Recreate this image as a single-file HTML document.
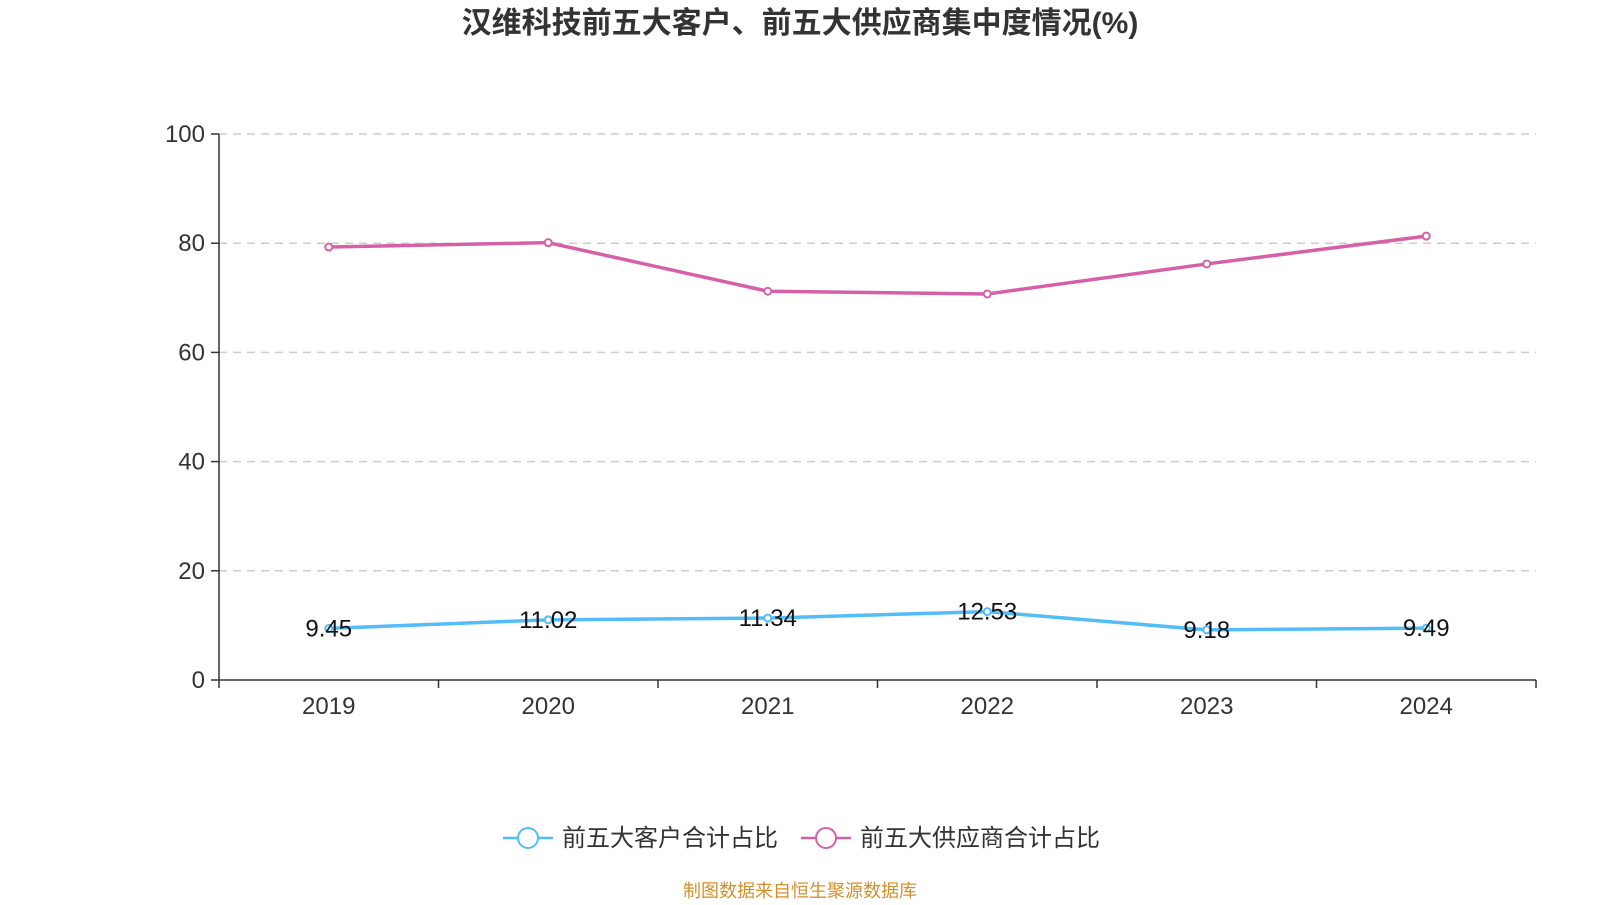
<!DOCTYPE html>
<html><head><meta charset="utf-8"><style>
body{margin:0;background:#fff;width:1600px;height:900px;overflow:hidden;font-family:"Liberation Sans","Noto Sans CJK SC",sans-serif}
</style></head><body>
<svg id="c" width="1600" height="900" xmlns="http://www.w3.org/2000/svg">
<text x="800" y="33" text-anchor="middle" font-size="30" font-weight="bold" fill="#333">汉维科技前五大客户、前五大供应商集中度情况(%)</text>
<g id="grid"></g><g id="axes"></g><g id="series"></g>
<g>
<g>
<line x1="503" y1="838" x2="553" y2="838" stroke="#52bdf7" stroke-width="2.5"/><circle cx="528" cy="838" r="10" fill="#fff" stroke="#52bdf7" stroke-width="2"/>
<text x="562" y="846" font-size="24" fill="#333">前五大客户合计占比</text></g>
<g>
<line x1="801" y1="838" x2="851" y2="838" stroke="#d660a8" stroke-width="2.5"/><circle cx="826" cy="838" r="10" fill="#fff" stroke="#d660a8" stroke-width="2"/>
<text x="860" y="846" font-size="24" fill="#333">前五大供应商合计占比</text></g>
</g>
<text x="800" y="897" text-anchor="middle" font-size="18" fill="#d4902c">制图数据来自恒生聚源数据库</text>
</svg>
<script>
const categories=["2019","2020","2021","2022","2023","2024"];
const customers=[9.45,11.02,11.34,12.53,9.18,9.49];
const suppliers=[79.3,80.1,71.2,70.7,76.2,81.3];
const yTicks=[0,20,40,60,80,100];
const NS="http://www.w3.org/2000/svg";
const L=219,R=1536,T=134,B=680;
const step=(R-L)/categories.length;
const xs=i=>L+step*(i+0.5);
const ys=v=>B-(v/100)*(B-T);
function mk(tag,attrs,parent,txt){const e=document.createElementNS(NS,tag);for(const k in attrs)e.setAttribute(k,attrs[k]);if(txt!==undefined)e.textContent=txt;document.getElementById(parent).appendChild(e);return e;}
yTicks.forEach(t=>{
 if(t>0){const g=mk('line',{x1:L,x2:R,y1:ys(t),y2:ys(t),stroke:'#ccc','stroke-width':1.5,'stroke-dasharray':'8,6'},'grid');
 
 }
 const tk=mk('line',{x1:L-8,x2:L,y1:ys(t),y2:ys(t),stroke:'#333','stroke-width':1.5},'axes');
 
 
 const lb=mk('text',{x:L-14,y:ys(t)+8,'text-anchor':'end','font-size':24,fill:'#333'},'axes',t);
 
 
});
const ya=mk('line',{x1:L,x2:L,y1:T,y2:B,stroke:'#333','stroke-width':1.5},'axes');


const xa=mk('line',{x1:L,x2:R,y1:B,y2:B,stroke:'#333','stroke-width':1.5},'axes');


for(let i=0;i<=categories.length;i++){const t=mk('line',{x1:L+step*i,x2:L+step*i,y1:B,y2:B+8,stroke:'#333','stroke-width':1.5},'axes');
 
 }
categories.forEach((c,i)=>{const t=mk('text',{x:xs(i),y:B+34,'text-anchor':'middle','font-size':24,fill:'#333'},'axes',c);
 
 });
function series(vals,color,name,labels){
 const p=mk('polyline',{points:vals.map((v,i)=>xs(i)+','+ys(v)).join(' '),fill:'none',stroke:color,'stroke-width':3.5,'stroke-linejoin':'round'},'series');
 
 
 vals.forEach((v,i)=>{const c=mk('circle',{cx:xs(i),cy:ys(v),r:3.5,fill:'#fff',stroke:color,'stroke-width':2},'series');
  
  
  if(labels){const t=mk('text',{x:xs(i),y:ys(v)+8,'text-anchor':'middle','font-size':24,fill:'#111'},'series',v.toFixed(2));
  
  }});
}
series(suppliers,'#d660a8','suppliers',false);
series(customers,'#52bdf7','customers',true);
</script>
</body></html>
